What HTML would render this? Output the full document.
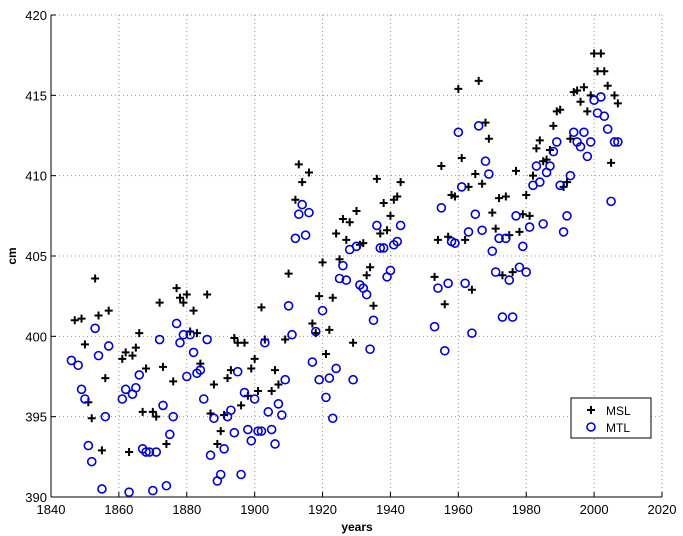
<!DOCTYPE html>
<html><head><meta charset="utf-8"><style>
body{margin:0;background:#fff;}
svg{display:block;font-family:"Liberation Sans",sans-serif;}
</style></head><body>
<svg id="chart" width="683" height="536" viewBox="0 0 683 536">
<rect x="0" y="0" width="683" height="536" fill="#fff"/>
<g id="grid"></g>
<g id="axes"></g>
<g id="msl"></g>
<g id="mtl"></g>
<text x="357" y="531" text-anchor="middle" font-size="12" font-weight="bold">years</text>
<text x="16" y="256" text-anchor="middle" font-size="12" font-weight="bold" transform="rotate(-90 16 256)">cm</text>
<g>
<rect x="571" y="398" width="80" height="40" fill="#fff" stroke="#000" stroke-width="1"/>
<g><path d="M587 410h8M591 406v8" stroke="#000" stroke-width="2"/><text x="606" y="415" font-size="12">MSL</text></g>
<g><circle cx="591" cy="427" r="4" fill="none" stroke="#0000cc" stroke-width="1.6"/><text x="606" y="432" font-size="12">MTL</text></g>
</g>
</svg>
<script>
const xTicks=[1840,1860,1880,1900,1920,1940,1960,1980,2000,2020];
const yTicks=[390,395,400,405,410,415,420];
const mslYears=[1847,1849,1850,1851,1852,1853,1854,1855,1856,1857,1861,1862,1863,1864,1865,1866,1867,1868,1870,1871,1872,1873,1874,1876,1877,1878,1879,1880,1881,1882,1883,1884,1886,1887,1888,1889,1890,1891,1892,1893,1894,1895,1896,1897,1898,1899,1900,1901,1902,1903,1905,1906,1907,1909,1910,1912,1913,1914,1916,1917,1918,1919,1920,1921,1922,1923,1924,1925,1926,1927,1928,1929,1930,1931,1932,1933,1934,1935,1936,1937,1938,1939,1940,1941,1942,1943,1953,1954,1955,1956,1957,1958,1959,1960,1961,1962,1963,1964,1965,1966,1967,1968,1969,1970,1971,1972,1973,1974,1975,1976,1977,1978,1979,1980,1981,1982,1983,1984,1985,1986,1987,1988,1989,1990,1991,1992,1993,1994,1995,1996,1997,1998,1999,2000,2001,2002,2003,2004,2005,2006,2007];
const mslValues=[401.0,401.1,399.5,395.9,394.9,403.6,401.3,392.9,397.4,401.6,398.6,399.0,392.8,398.8,399.3,400.2,395.3,398.0,395.3,395.0,402.1,398.1,393.3,397.2,403.0,402.4,402.1,402.6,400.3,401.6,400.2,398.3,402.6,395.2,397.0,393.3,394.1,395.1,397.4,397.9,399.9,399.6,395.7,399.6,396.3,398.0,398.6,396.6,401.8,399.8,396.6,397.9,397.0,399.8,403.9,408.5,410.7,409.6,410.2,400.8,400.2,402.5,404.6,398.9,400.4,402.4,406.4,404.8,407.3,406.0,407.1,399.6,407.8,405.7,405.8,403.8,404.3,401.9,409.8,406.4,408.3,406.6,407.5,408.5,408.7,409.6,403.7,406.0,410.6,402.0,406.2,408.8,408.7,415.4,411.1,406.0,409.3,402.9,410.1,415.9,409.5,413.3,412.3,407.7,406.7,408.6,403.8,408.7,406.3,404.0,410.3,406.5,407.6,408.8,407.5,410.0,411.7,412.2,410.9,411.0,411.6,413.1,414.0,414.1,409.3,409.6,412.3,415.2,415.3,414.6,415.5,414.0,415.0,417.6,416.5,417.6,416.5,415.6,410.8,415.0,414.5];
const mtlYears=[1846,1848,1849,1850,1851,1852,1853,1854,1855,1856,1857,1861,1862,1863,1864,1865,1866,1867,1868,1869,1870,1871,1872,1873,1874,1875,1876,1877,1878,1879,1880,1881,1882,1883,1884,1885,1886,1887,1888,1889,1890,1891,1892,1893,1894,1895,1896,1897,1898,1899,1900,1901,1902,1903,1904,1905,1906,1907,1908,1909,1910,1911,1912,1913,1914,1915,1916,1917,1918,1919,1920,1921,1922,1923,1924,1925,1926,1927,1928,1929,1930,1931,1932,1933,1934,1935,1936,1937,1938,1939,1940,1941,1942,1943,1953,1954,1955,1956,1957,1958,1959,1960,1961,1962,1963,1964,1965,1966,1967,1968,1969,1970,1971,1972,1973,1974,1975,1976,1977,1978,1979,1980,1981,1982,1983,1984,1985,1986,1987,1988,1989,1990,1991,1992,1993,1994,1995,1996,1997,1998,1999,2000,2001,2002,2003,2004,2005,2006,2007];
const mtlValues=[398.5,398.2,396.7,396.1,393.2,392.2,400.5,398.8,390.5,395.0,399.4,396.1,396.7,390.3,396.4,396.8,397.6,393.0,392.8,392.8,390.4,392.8,399.8,395.7,390.7,393.9,395.0,400.8,399.6,400.1,397.5,400.1,399.0,397.7,397.9,396.1,399.8,392.6,394.9,391.0,391.4,393.0,395.0,395.4,394.0,397.8,391.4,396.5,394.2,393.5,396.1,394.1,394.1,399.6,395.3,394.2,393.3,395.8,395.1,397.3,401.9,400.1,406.1,407.6,408.2,406.3,407.7,398.4,400.3,397.3,401.6,396.2,397.4,394.9,398.0,403.6,404.4,403.5,405.4,397.3,405.6,403.2,403.0,402.6,399.2,401.0,406.9,405.5,405.5,403.7,404.1,405.7,405.9,406.9,400.6,403.0,408.0,399.1,403.3,405.9,405.8,412.7,409.3,403.3,406.5,400.2,407.6,413.1,406.6,410.9,410.1,405.3,404.0,406.1,401.2,406.1,403.5,401.2,407.5,404.3,405.6,404.0,406.8,409.4,410.6,409.6,407.0,410.2,410.6,411.5,412.1,409.4,406.5,407.5,410.0,412.7,412.1,411.8,412.7,411.2,412.1,414.7,413.9,414.9,413.7,412.9,408.4,412.1,412.1];

const NS="http://www.w3.org/2000/svg";
const L=51,R=662,T=15,B=497;
function xs(v){return L+(v-1840)/(2020-1840)*(R-L);}
function ys(v){return B-(v-390)/(420-390)*(B-T);}
function mk(tag,attrs,parent){const e=document.createElementNS(NS,tag);for(const k in attrs)e.setAttribute(k,attrs[k]);parent.appendChild(e);return e;}
const grid=document.getElementById('grid'),axes=document.getElementById('axes');
xTicks.forEach(t=>{
  const x=xs(t);
  if(t>1840){const g=mk('line',{x1:x,x2:x,y1:T,y2:B,stroke:'#999','stroke-width':1,'stroke-dasharray':'1,3'},grid);
  
  }
  mk('line',{x1:x,x2:x,y1:B,y2:B-5,stroke:'#000'},axes);
  const lb=mk('text',{x:x,y:B+17,'text-anchor':'middle','font-size':13},axes);
  lb.textContent=t;
  
  
});
yTicks.forEach(t=>{
  const y=ys(t);
  if(t>390){const g=mk('line',{x1:L,x2:R,y1:y,y2:y,stroke:'#999','stroke-width':1,'stroke-dasharray':'1,3'},grid);
  
  }
  mk('line',{x1:L,x2:L+5,y1:y,y2:y,stroke:'#000'},axes);
  const lb=mk('text',{x:L-4,y:y+5,'text-anchor':'end','font-size':13},axes);
  lb.textContent=t;
  
  
});
const xa=mk('line',{x1:L,x2:R,y1:B,y2:B,stroke:'#000','stroke-width':1},axes);


const ya=mk('line',{x1:L,x2:L,y1:T,y2:B,stroke:'#000','stroke-width':1},axes);


const msl=document.getElementById('msl');
mslYears.forEach((yr,i)=>{
  const x=xs(yr),y=ys(mslValues[i]);
  const p=mk('path',{d:`M${x-4} ${y}h8M${x} ${y-4}v8`,stroke:'#000','stroke-width':2},msl);
  
  
});
const mtl=document.getElementById('mtl');
mtlYears.forEach((yr,i)=>{
  const c=mk('circle',{cx:xs(yr),cy:ys(mtlValues[i]),r:4,fill:'none',stroke:'#0000cc','stroke-width':1.6},mtl);
  
  
});
</script>
</body></html>
